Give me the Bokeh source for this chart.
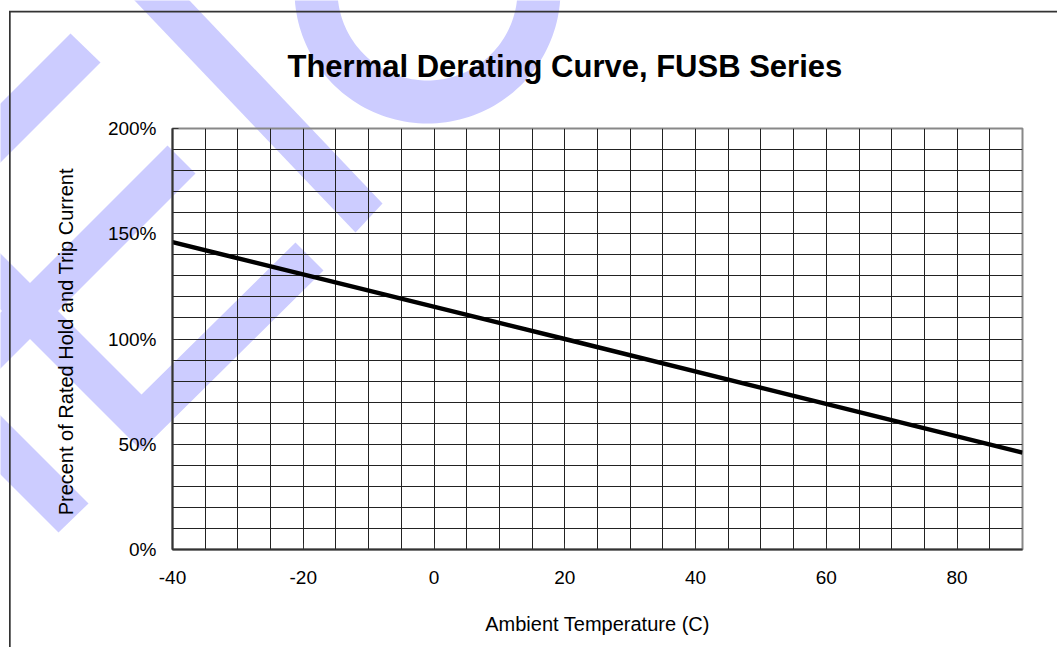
import numpy as np
from bokeh.plotting import figure
from bokeh.models import FixedTicker, PrintfTickFormatter, Range1d
from bokeh.embed import file_html
from bokeh.resources import INLINE

# ---- data ----
temps = [-40, 20, 90]          # Ambient temperature (C)
rating = [146, 100, 46]        # Percent of rated hold and trip current
x_ticks = [-40, -20, 0, 20, 40, 60, 80]
y_ticks = [0, 50, 100, 150, 200]
x_grid = list(range(-35, 90, 5))
y_grid = list(range(10, 200, 10))

TITLE = "Thermal Derating Curve, FUSB  Series"
XLABEL = "Ambient Temperature (C)"
YLABEL = "Precent of Rated Hold  and Trip Current"

FONT = "Liberation Sans"
W, H = 1057, 647
ML, MR, MT, MB = 172, 35, 128, 98
ABS = {"position": "absolute", "top": "0px", "left": "0px"}

# ---- background layer: decorative watermark + page frame (pixel space) ----
bg = figure(width=W, height=H, x_range=Range1d(0, W), y_range=Range1d(H, 0),
            output_backend="svg", toolbar_location=None,
            min_border=0, min_border_left=0, min_border_right=0,
            min_border_top=0, min_border_bottom=0)
bg.styles = ABS
bg.axis.visible = False
bg.grid.visible = False
bg.outline_line_color = None
bg.background_fill_color = "white"
bg.border_fill_color = "white"

shapes = [
    [(70, 33), (100, 62), (-100, 262), (-130, 233)],
    [(167, 145), (195, 173), (-55, 423), (-83, 395)],
    [(323, 270), (141, 450), (-73, 236), (-45, 208), (141, 394), (295, 242)],
    [(88, 503), (58, 532), (-142, 332), (-112, 303)],
    [(382, 203), (355, 232), (115, -20), (170, -20)],
]
t = np.linspace(0, 2 * np.pi, 181)
cx, cy, R, r = 427, -10, 133, 90
ring = [(cx + R * np.cos(a), cy + R * np.sin(a)) for a in t] + \
       [(cx + r * np.cos(a), cy + r * np.sin(a)) for a in t[::-1]]
shapes.append(ring)
bg.patches([[q[0] for q in s] for s in shapes], [[q[1] for q in s] for s in shapes],
           fill_color="#ccccff", line_color=None)
# page frame lines
bg.quad(left=[8.5, 8.5], right=[10.2, 1100], top=[10.5, 10.3], bottom=[700, 12],
        fill_color="#333333", line_color=None)

# ---- chart ----
p = figure(width=W, height=H, x_range=Range1d(-40, 90), y_range=Range1d(0, 200),
           output_backend="svg", toolbar_location=None,
           min_border_left=ML, min_border_right=MR, min_border_top=MT, min_border_bottom=MB)
p.styles = ABS
p.background_fill_color = None
p.border_fill_color = None
p.outline_line_color = "#888888"
p.outline_line_width = 2

p.title.text = TITLE
p.title.text_font = FONT
p.title.text_font_size = "31px"
p.title.text_font_style = "bold"
p.title.text_color = "black"
p.title.align = "left"
p.title.offset = 287 - ML
p.title.standoff = 89

# grid
p.xgrid.ticker = FixedTicker(ticks=x_grid)
p.ygrid.ticker = FixedTicker(ticks=y_grid)
for g in (p.xgrid, p.ygrid):
    g.grid_line_color = "#222222"
    g.grid_line_width = 1
    g.grid_line_alpha = 1

# axes
p.xaxis.ticker = FixedTicker(ticks=x_ticks)
p.yaxis.ticker = FixedTicker(ticks=y_ticks)
p.xaxis.formatter = PrintfTickFormatter(format="%d")
p.yaxis.formatter = PrintfTickFormatter(format="%d%%")
for ax in (p.xaxis, p.yaxis):
    ax.axis_line_color = "#333333"
    ax.axis_line_width = 2
    ax.major_tick_in = 6
    ax.major_tick_out = 0
    ax.major_tick_line_color = "#333333"
    ax.minor_tick_line_color = None
    ax.major_label_text_font = FONT
    ax.major_label_text_font_size = "19px"
    ax.major_label_text_color = "black"
    ax.axis_label_text_font = FONT
    ax.axis_label_text_font_size = "20px"
    ax.axis_label_text_font_style = "normal"
    ax.axis_label_text_color = "black"
p.xaxis.axis_label = XLABEL
p.yaxis.axis_label = YLABEL
p.xaxis.major_label_standoff = 21
p.yaxis.major_label_standoff = 16
p.xaxis.axis_label_standoff = 26
p.yaxis.axis_label_standoff = 28

# data line
p.line(temps, rating, line_width=4.5, line_color="black")

open("out.html", "w").write(file_html([bg, p], INLINE))
